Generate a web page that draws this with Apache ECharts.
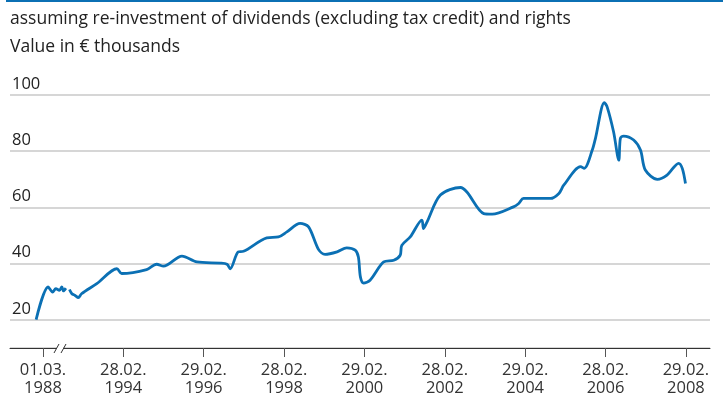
<!DOCTYPE html>
<html>
<head>
<meta charset="utf-8">
<script src="https://cdn.jsdelivr.net/npm/echarts@6/dist/echarts.min.js"></script>
<style>html,body{margin:0;padding:0;background:#fff}#c{width:723px;height:403px}</style>
</head>
<body>
<div id="c"></div>
<script>
// x positions on a broken time axis: 1988 sits at axis value 1992, real years from 1994 on
const tickPositions = [1992, 1994, 1996, 1998, 2000, 2002, 2004, 2006, 2008];
const tickLabels = ["01.03.\n1988", "28.02.\n1994", "29.02.\n1996", "28.02.\n1998", "29.02.\n2000", "28.02.\n2002", "29.02.\n2004", "28.02.\n2006", "29.02.\n2008"];

// segment before the axis break
const earlyX = [1991.83, 1992.13, 1992.24, 1992.32, 1992.41, 1992.47, 1992.51, 1992.57];
const earlyY = [20.1, 31.7, 29.9, 31.1, 30.5, 31.7, 30.3, 31.3];

// segment after the axis break
const mainX = [1992.66, 1992.72, 1992.80, 1992.88, 1992.96, 1993.34, 1993.84, 1993.96, 1994.58, 1994.83, 1995.00,
  1995.46, 1995.83, 1996.41, 1996.58, 1996.66, 1996.86, 1996.99, 1997.57, 1997.86, 1998.07, 1998.40, 1998.61,
  1998.86, 1999.02, 1999.32, 1999.56, 1999.77, 1999.85, 1999.90, 1999.98, 2000.14, 2000.48, 2000.73, 2000.89,
  2000.93, 2001.14, 2001.43, 2001.47, 2001.56, 2001.89, 2002.39, 2002.55, 2002.97, 2003.18, 2003.71, 2003.84,
  2003.96, 2004.63, 2004.84, 2004.96, 2005.38, 2005.47, 2005.67, 2005.75, 2005.97, 2006.04, 2006.20, 2006.33,
  2006.37, 2006.45, 2006.70, 2006.87, 2006.99, 2007.29, 2007.53, 2007.82, 2007.91, 2007.99];
const mainY = [30.8, 29.3, 28.7, 27.9, 29.3, 32.9, 38.2, 36.5, 37.9, 39.8, 39.1,
  42.7, 40.6, 40.2, 39.8, 38.2, 44.2, 44.4, 49.2, 49.5, 51.3, 54.3, 53.1,
  45.0, 43.3, 44.2, 45.6, 44.8, 42.4, 35.3, 33.1, 34.1, 40.6, 41.2, 43.0,
  46.5, 49.5, 55.5, 52.5, 54.9, 64.4, 67.1, 65.5, 57.8, 57.6, 60.2, 61.4,
  63.2, 63.2, 65.0, 67.9, 74.5, 73.9, 80.4, 84.6, 97.3, 95.8, 86.9, 76.8,
  84.6, 85.4, 84.0, 80.4, 73.3, 70.0, 71.5, 75.7, 73.9, 68.5];

const yTicks = [20, 40, 60, 80, 100];

const pair = (xs, ys) => xs.map((x, i) => [x, ys[i]]);
const blue = '#0b70b4';

const chart = echarts.init(document.getElementById('c'), null, {renderer: 'canvas'});
chart.setOption({
  animation: false,
  backgroundColor: '#fff',
  textStyle: {fontFamily: 'Open Sans'},
  title: [
    {text: 'assuming re-investment of dividends (excluding tax credit) and rights', left: 5, top: 5,
     textStyle: {fontFamily: 'Open Sans', fontSize: 17.5, fontWeight: 'normal', color: '#222'}},
    {text: 'Value in € thousands', left: 5, top: 33,
     textStyle: {fontFamily: 'Open Sans', fontSize: 17.5, fontWeight: 'normal', color: '#222'}}
  ],
  grid: {left: 10, right: 13, top: 95, bottom: 55, containLabel: false},
  xAxis: {
    type: 'value', min: 1991.18, max: 2008.6,
    axisLine: {show: true, lineStyle: {color: '#333', width: 1}},
    axisTick: {show: true, customValues: tickPositions, length: 9, lineStyle: {color: '#555', width: 1}},
    axisLabel: {show: true, customValues: tickPositions, margin: 13, fontSize: 16.5, lineHeight: 18,
      color: '#333', fontFamily: 'Open Sans',
      formatter: v => { const i = tickPositions.findIndex(t => Math.abs(t - v) < 1e-6); return i >= 0 ? tickLabels[i] : ''; }},
    splitLine: {show: false}
  },
  yAxis: {
    type: 'value', min: 10, max: 100, splitNumber: 5,
    axisLine: {show: false}, axisTick: {show: false},
    axisLabel: {inside: true, margin: 2, verticalAlign: 'bottom', fontSize: 16.5, lineHeight: 18,
      padding: [0, 0, 2, 0], color: '#222', fontFamily: 'Open Sans',
      formatter: v => yTicks.includes(v) ? String(v) : ''},
    splitLine: {show: true, lineStyle: {color: '#c8c8c8', width: 1.5}}
  },
  series: [
    {type: 'line', data: pair(earlyX, earlyY), smooth: 0.3, symbol: 'none',
     lineStyle: {color: blue, width: 2.8}, z: 5},
    {type: 'line', data: pair(mainX, mainY), smooth: 0.3, symbol: 'none',
     lineStyle: {color: blue, width: 2.8}, z: 5}
  ],
  graphic: [
    {type: 'rect', shape: {x: 6, y: 0, width: 717, height: 2}, style: {fill: blue}},
    {type: 'rect', shape: {x: 57, y: 345, width: 6, height: 6}, style: {fill: '#fff'}, z: 100},
    {type: 'line', shape: {x1: 54, y1: 353, x2: 59, y2: 344}, style: {stroke: '#333', lineWidth: 1}, z: 101},
    {type: 'line', shape: {x1: 61, y1: 353, x2: 66, y2: 344}, style: {stroke: '#333', lineWidth: 1}, z: 101}
  ]
});
</script>
</body>
</html>
